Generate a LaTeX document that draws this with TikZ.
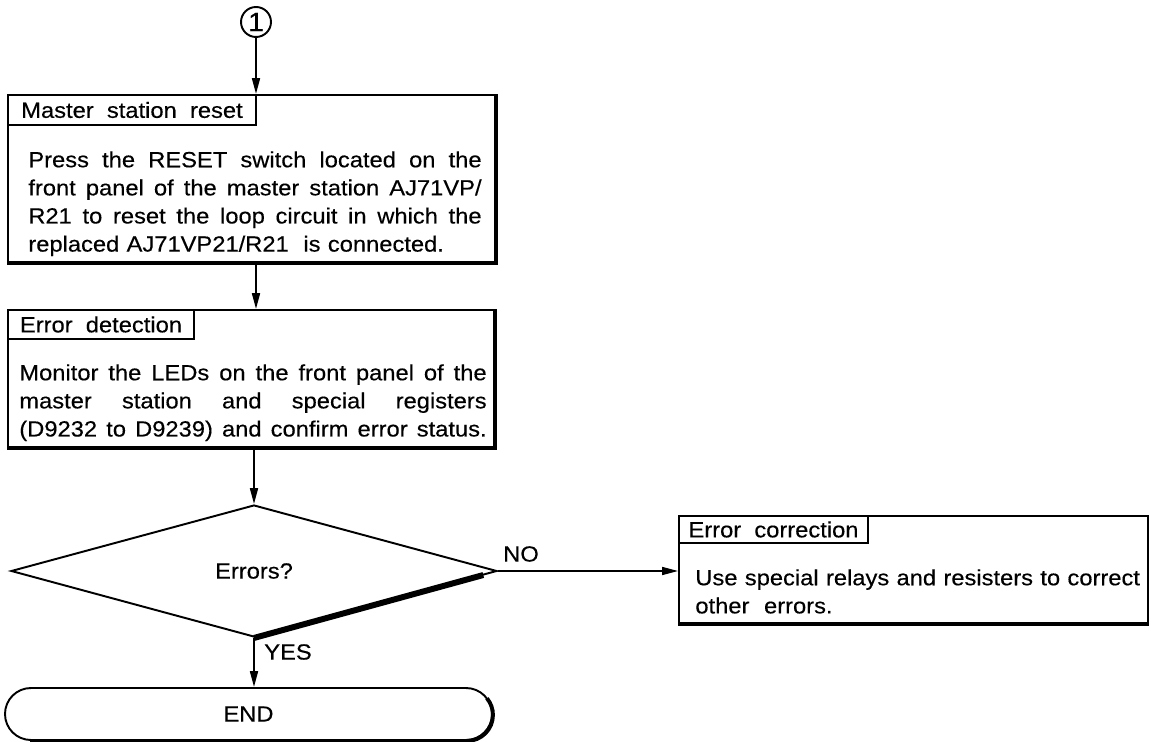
\documentclass[tikz,border=0pt]{standalone}
\usepackage{fontspec}
\setmainfont{Liberation Sans}[FakeStretch=1.08,FakeBold=0.35]
\usetikzlibrary{arrows.meta,shapes.geometric,fit,calc}
\newcommand{\bodyfont}{\fontsize{12.5pt}{16pt}\selectfont}
\newcommand{\circfont}{\fontsize{15pt}{15pt}\selectfont}
\newcommand{\jl}[2]{\makebox[#1][s]{\spaceskip=\fontdimen2\font plus 1fil\relax #2}}
\begin{document}
\begin{tikzpicture}[x=0.02cm, y=-0.02cm,
  every node/.style={font=\bodyfont},
  box/.style={draw, line width=1.1pt, inner sep=0pt},
  tab/.style={draw, line width=0.9pt, inner sep=0pt},
  heavy/.style={line width=2.2pt},
  arr/.style={line width=1.1pt, -{Triangle[length=9pt,width=4.5pt]}},
  body/.style={inner sep=0pt, anchor=north west, align=left},
  lbl/.style={inner sep=0pt}]
\useasboundingbox (0,0) rectangle (1151,742);

% connector symbol
\node[circle, draw, line width=1.1pt, minimum size=0.6cm, inner sep=0pt, font=\circfont] (c) at (256,22) {1};

% box 1
\node[box, fit={(8,95) (495,262)}] (b1) {};
\draw[heavy] (b1.south west) -- (b1.south east) -- (b1.north east);
\node[tab, fit={(8,95) (256,125)}] (t1) {};
\node[lbl] (t1l) at (t1.center) {Master~ station~ reset};
\node[body, text width=258pt] (b1t) at (28,151) {\jl{258pt}{Press the RESET switch located on the}\\
\jl{258pt}{front panel of the master station AJ71VP/}\\
\jl{258pt}{R21 to reset the loop circuit in which the}\\
replaced AJ71VP21/R21~ is connected.};

% box 2
\node[box, fit={(8,310) (494,447)}] (b2) {};
\draw[heavy] (b2.south west) -- (b2.south east) -- (b2.north east);
\node[tab, fit={(8,310) (194,339)}] (t2) {};
\node[lbl] (t2l) at (t2.center) {Error~ detection};
\node[body, text width=266pt] (b2t) at (19,364) {\jl{266pt}{Monitor the LEDs on the front panel of the}\\
\jl{266pt}{master station and special registers}\\
\jl{266pt}{(D9232 to D9239) and confirm error status.}};

% decision
\node[diamond, draw, line width=1.1pt, inner sep=0pt, minimum width=9.72cm, minimum height=2.64cm] (d) at (254,571) {Errors?};
\draw[line width=3.4pt] (d.south) -- ($(d.south)!0.94!(d.east)$);

% end terminal
\node[box, rounded corners=0.52cm, fit={(5,688) (492,740)}] (e) {};
\node[lbl] (el) at (e.center) {END};
\draw[heavy] ([xshift=0.52cm]e.south west) -- ([xshift=-0.52cm]e.south east) arc[start angle=90, end angle=-40, radius=26];

% error correction
\node[box, fit={(679,516) (1148,623)}] (ec) {};
\draw[heavy] (ec.south west) -- (ec.south east);
\node[tab, fit={(679,516) (868,543)}] (t3) {};
\node[lbl] (t3l) at (t3.center) {Error~ correction};
\node[body, text width=262pt] (ect) at (695,569) {Use special relays and resisters to correct\\
other~ errors.};

% connectors
\draw[arr] (c.south) -- (c.south |- b1.north);
\draw[arr] (c |- b1.south) -- (c |- b2.north);
\draw[arr] (d.north |- b2.south) -- (d.north);
\draw[arr] (d.south) -- (d.south |- e.north);
\draw[arr, line width=0.9pt] (d.east) -- (d.east -| ec.west);

% labels
\node[lbl] (no) at (521,554) {NO};
\node[lbl] (yes) at (288,652) {YES};
\end{tikzpicture}
\end{document}
